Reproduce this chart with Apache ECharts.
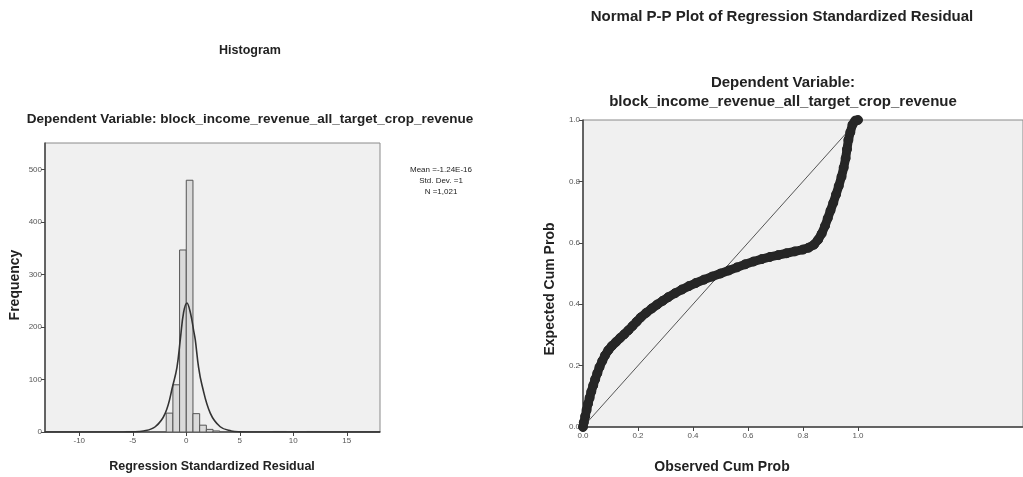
<!DOCTYPE html>
<html>
<head>
<meta charset="utf-8">
<script src="https://cdn.jsdelivr.net/npm/echarts@6/dist/echarts.min.js"></script>
<style>
html,body{margin:0;padding:0;background:#ffffff;}
#chart{width:1023px;height:477px;}
</style>
</head>
<body>
<div id="chart"></div>
<script>
// ---------- Histogram data ----------
const histBinStart = [-5.625, -5.0, -1.875, -1.25, -0.625, 0, 0.625, 1.25, 1.875, 2.5, 8.125, 8.75, 11.25, 11.875];
const histCounts   = [1, 1, 36, 90, 347, 480, 35, 13, 5, 2, 1, 1, 1, 1];
const binWidth = 0.625;
const curveX = [-13.2, -6, -5, -4, -2.9, -1.96, -1.24, -0.87, -0.56, -0.25, 0.06, 0.4, 0.7, 0.84, 1.15, 1.46, 2.24, 3.17, 4.2, 5, 6, 18.1];
const curveY = [0, 0, 0.3, 2, 10, 36, 90, 123, 176, 228, 246, 226, 192, 176, 123, 90, 36, 10, 2, 0.3, 0, 0];
const histXTicks = [-10, -5, 0, 5, 10, 15];
const histYTicks = [0, 100, 200, 300, 400, 500];
const histLegend = ['Mean =-1.24E-16', 'Std. Dev. =1', 'N =1,021'];

// ---------- P-P plot data ----------
const ppObserved = [0.000,0.003,0.008,0.013,0.018,0.024,0.030,0.037,0.044,0.052,0.060,0.070,0.080,0.092,0.105,0.120,0.135,0.150,0.165,0.180,0.195,0.210,0.230,0.250,0.270,0.290,0.310,0.335,0.360,0.385,0.410,0.440,0.470,0.500,0.530,0.560,0.590,0.620,0.650,0.680,0.710,0.740,0.770,0.800,0.820,0.840,0.855,0.868,0.880,0.890,0.900,0.910,0.920,0.930,0.940,0.948,0.955,0.960,0.965,0.972,0.980,0.990,1.000];
const ppExpected = [0.000,0.015,0.035,0.055,0.075,0.095,0.115,0.135,0.155,0.175,0.195,0.215,0.233,0.250,0.264,0.277,0.290,0.302,0.315,0.329,0.343,0.357,0.372,0.386,0.399,0.411,0.423,0.436,0.448,0.459,0.469,0.480,0.490,0.500,0.510,0.520,0.530,0.539,0.547,0.554,0.560,0.566,0.572,0.578,0.584,0.594,0.610,0.630,0.655,0.680,0.705,0.730,0.757,0.785,0.815,0.845,0.875,0.905,0.935,0.960,0.985,0.998,1.000];
const refLineX = [0, 1];
const refLineY = [0, 1];
const ppTicks = [0, 0.2, 0.4, 0.6, 0.8, 1.0];

const FONT = 'Liberation Sans, Arial, sans-serif';
const chart = echarts.init(document.getElementById('chart'), null, {renderer: 'canvas'});

const histData = histBinStart.map((s, i) => [s, binWidth, histCounts[i]]);
const curveData = curveX.map((x, i) => [x, curveY[i]]);
const ppData = ppObserved.map((x, i) => [x, ppExpected[i]]);
const refData = refLineX.map((x, i) => [x, refLineY[i]]);

const axisCommon = {
  axisLine: {onZero: false, lineStyle: {color: '#444', width: 1.5}},
  splitLine: {show: false}
};

function txt(text, x, y, size, weight, opts) {
  return Object.assign({
    type: 'text', x: x, y: y,
    style: {text: text, font: (weight || 'bold') + ' ' + size + 'px ' + FONT, fill: '#222', textAlign: 'center', textVerticalAlign: 'middle'}
  }, opts || {});
}

const option = {
  animation: false,
  backgroundColor: '#ffffff',
  grid: [
    {left: 45, top: 143, width: 335, height: 289, show: true, backgroundColor: '#f0f0f0', borderColor: '#8a8a8a', borderWidth: 1},
    {left: 583, top: 120, width: 443, height: 307, show: true, backgroundColor: '#f0f0f0', borderColor: '#8a8a8a', borderWidth: 1}
  ],
  xAxis: [
    Object.assign({}, axisCommon, {
      type: 'value', gridIndex: 0, min: -13.2, max: 18.1,
      axisTick: {customValues: histXTicks, length: 4, lineStyle: {color: '#444'}},
      axisLabel: {customValues: histXTicks, fontSize: 8, color: '#555', margin: 5, fontFamily: FONT}
    }),
    Object.assign({}, axisCommon, {
      type: 'value', gridIndex: 1, min: 0, max: 1.6,
      axisTick: {customValues: ppTicks, length: 4, lineStyle: {color: '#444'}},
      axisLabel: {customValues: ppTicks, fontSize: 8, color: '#555', margin: 5, fontFamily: FONT, formatter: v => v.toFixed(1)}
    })
  ],
  yAxis: [
    Object.assign({}, axisCommon, {
      type: 'value', gridIndex: 0, min: 0, max: 551,
      axisTick: {customValues: histYTicks, length: 4, lineStyle: {color: '#444'}},
      axisLabel: {customValues: histYTicks, fontSize: 8, color: '#555', margin: 3, fontFamily: FONT}
    }),
    Object.assign({}, axisCommon, {
      type: 'value', gridIndex: 1, min: 0, max: 1.0,
      axisTick: {customValues: ppTicks, length: 4, lineStyle: {color: '#444'}},
      axisLabel: {customValues: ppTicks, fontSize: 8, color: '#555', margin: 3, fontFamily: FONT, formatter: v => v.toFixed(1)}
    })
  ],
  series: [
    {
      type: 'custom', xAxisIndex: 0, yAxisIndex: 0, clip: true,
      data: histData,
      encode: {x: 0, y: 2},
      renderItem: function (params, api) {
        const x0 = api.value(0), w = api.value(1), c = api.value(2);
        const p0 = api.coord([x0, c]);
        const p1 = api.coord([x0 + w, 0]);
        return {type: 'rect', shape: {x: p0[0], y: p0[1], width: p1[0] - p0[0], height: p1[1] - p0[1]},
                style: {fill: '#dadada', stroke: '#555', lineWidth: 1}};
      }
    },
    {
      type: 'line', xAxisIndex: 0, yAxisIndex: 0, data: curveData, smooth: 0.4,
      symbol: 'none', lineStyle: {color: '#333', width: 1.6}, z: 3
    },
    {
      type: 'line', xAxisIndex: 1, yAxisIndex: 1, data: refData,
      symbol: 'none', lineStyle: {color: '#555', width: 1}, z: 2
    },
    {
      type: 'line', xAxisIndex: 1, yAxisIndex: 1, data: ppData,
      symbol: 'circle', symbolSize: 9, showSymbol: true,
      itemStyle: {color: '#262626', borderColor: '#262626'},
      lineStyle: {color: '#262626', width: 9}, z: 3
    }
  ],
  graphic: [
    txt('Histogram', 250, 51, 12.5),
    txt('Dependent Variable: block_income_revenue_all_target_crop_revenue', 250, 119, 13.5),
    txt('Frequency', 15, 285, 14, 'bold', {rotation: Math.PI / 2}),
    txt('Regression Standardized Residual', 212, 467, 12.5),
    txt(histLegend[0], 441, 170, 8, 'normal'),
    txt(histLegend[1], 441, 181, 8, 'normal'),
    txt(histLegend[2], 441, 192, 8, 'normal'),
    txt('Normal P-P Plot of Regression Standardized Residual', 782, 17, 15),
    txt('Dependent Variable:', 783, 83, 15),
    txt('block_income_revenue_all_target_crop_revenue', 783, 102, 15),
    txt('Expected Cum Prob', 550, 289, 14, 'bold', {rotation: Math.PI / 2}),
    txt('Observed Cum Prob', 722, 467, 14)
  ]
};
chart.setOption(option);
</script>
</body>
</html>
